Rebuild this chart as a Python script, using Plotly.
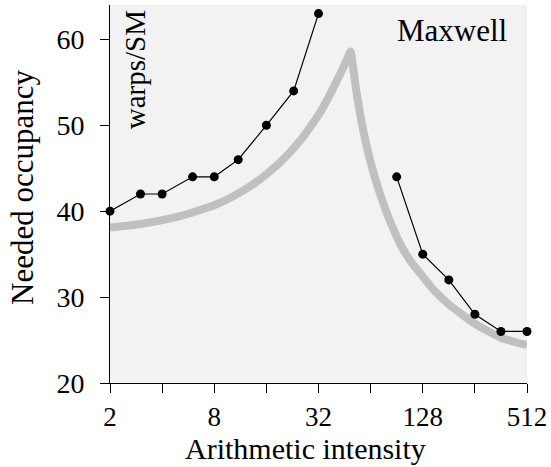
import math
import plotly.graph_objects as go

# Measured points (black line with dots), two segments
meas_x_left = [2, 3, 4, 6, 8, 11, 16, 23, 32]
meas_y_left = [40, 42, 42, 44, 44, 46, 50, 54, 63]
meas_x_right = [90.5, 128, 181, 256, 362, 512]
meas_y_right = [44, 35, 32, 28, 26, 26]

# Model curve (thick gray)
model_x = [2, 2.5, 3, 4, 5, 6, 7, 8, 10, 12, 14, 16, 19, 22, 25, 28, 32, 36, 40, 44, 47, 49,
           50.5, 52, 54, 56, 58, 61, 64, 68, 74, 80, 88, 96, 108, 128, 150, 180, 215, 256,
           300, 360, 430, 512]
model_y = [38.1, 38.3, 38.5, 38.95, 39.4, 39.85, 40.3, 40.7, 41.6, 42.5, 43.4, 44.3, 45.6, 46.9,
           48.2, 49.5, 51.2, 53.0, 54.8, 56.5, 57.8, 58.6,
           57.0, 55.0, 52.9, 51.0, 49.4, 47.4, 45.7, 43.8, 41.5, 39.6, 37.6, 36.0, 34.3, 32.4,
           30.7, 29.2, 28.0, 26.9, 26.1, 25.3, 24.8, 24.4]

x_tickvals = [2, 4, 8, 16, 32, 64, 128, 256, 512]
x_ticktext = ["2", "", "8", "", "32", "", "128", "", "512"]
y_tickvals = [20, 30, 40, 50, 60]

FONT = "Liberation Serif"

fig = go.Figure()
fig.add_trace(go.Scatter(x=model_x, y=model_y, mode="lines",
                         line=dict(color="#c0c0c0", width=8, shape="spline", smoothing=0.6),
                         hoverinfo="skip"))
fig.add_trace(go.Scatter(x=meas_x_left, y=meas_y_left, mode="lines+markers",
                         line=dict(color="black", width=1.2),
                         marker=dict(color="black", size=9), cliponaxis=False))
fig.add_trace(go.Scatter(x=meas_x_right, y=meas_y_right, mode="lines+markers",
                         line=dict(color="black", width=1.2),
                         marker=dict(color="black", size=9), cliponaxis=False))

fig.update_layout(
    width=551, height=467,
    margin=dict(l=110, r=24, t=5, b=84),
    paper_bgcolor="white", plot_bgcolor="#f2f2f2",
    showlegend=False,
    font=dict(family=FONT, size=28, color="black"),
    xaxis=dict(type="log", range=[math.log10(2) - 1e-6, math.log10(512) + 1e-6],
               tickvals=x_tickvals, ticktext=x_ticktext,
               ticks="outside", ticklen=9, tickcolor="black", tickwidth=1,
               showline=True, linecolor="black", linewidth=1,
               showgrid=False, zeroline=False, automargin=False,
               tickfont=dict(size=27), ticklabelstandoff=1),
    yaxis=dict(range=[20, 64], tickvals=y_tickvals,
               ticks="outside", ticklen=9, tickcolor="black", tickwidth=1,
               showline=True, linecolor="black", linewidth=1,
               showgrid=False, zeroline=False, automargin=False,
               tickfont=dict(size=28), ticklabelstandoff=10),
    annotations=[
        dict(text="Arithmetic intensity", xref="paper", yref="paper", x=0.468, y=-0.2222,
             xanchor="center", yanchor="bottom", showarrow=False,
             font=dict(family=FONT, size=30)),
        dict(text="Needed occupancy", xref="paper", yref="paper", x=-0.2086, y=0.516,
             xanchor="center", yanchor="middle", textangle=-90, showarrow=False,
             font=dict(family=FONT, size=31)),
        dict(text="Maxwell", xref="paper", yref="paper", x=0.958, y=0.985,
             xanchor="right", yanchor="top", showarrow=False,
             font=dict(family=FONT, size=31)),
        dict(text="warps/SM", xref="paper", yref="paper", x=0.06, y=0.99,
             xanchor="center", yanchor="top", textangle=-90, showarrow=False,
             font=dict(family=FONT, size=29)),
    ],
)

fig.write_html("out.html")
